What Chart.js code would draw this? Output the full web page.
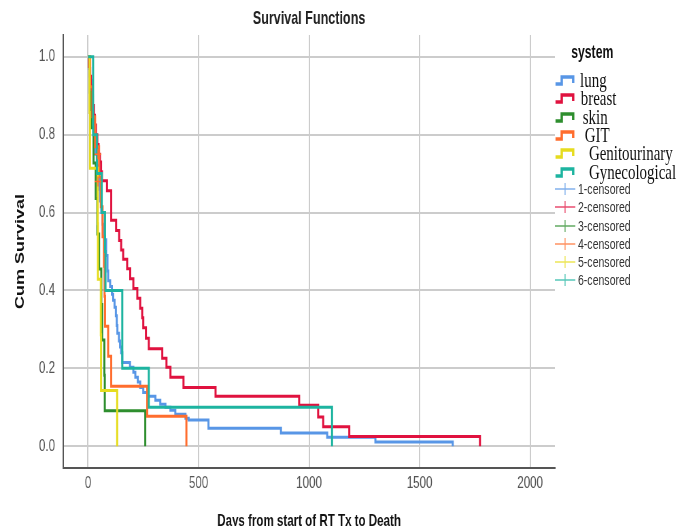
<!DOCTYPE html>
<html>
<head>
<meta charset="utf-8">
<script src="https://cdn.jsdelivr.net/npm/chart.js@4"></script>
<style>
  body { margin: 0; background: #fff; overflow: hidden; }
  /* the reference export is squeezed horizontally, so draw wide and squeeze */
  #wrap { position: relative; width: 1004px; height: 526px; transform: scaleX(0.68); transform-origin: 0 0; }
  #chart { position: absolute; left: 0; top: 0; }
  .leg { position: absolute; white-space: pre; line-height: 1; }
</style>
</head>
<body>
<div id="wrap">
  <canvas id="chart" width="1004" height="526"></canvas>
  <div id="legend"></div>
</div>
<script>
// groups and Kaplan-Meier steps (days, cumulative survival)
var systems = ['lung', 'breast', 'skin', 'GIT', 'Genitourinary', 'Gynecological'];
var colors = ['#5896e6', '#e0123f', '#2e8e2e', '#ff6d2e', '#e6dc1e', '#1db4a0'];

var lungDays = [0, 5, 10, 15, 20, 25, 30, 35, 40, 45, 50, 55, 60, 66, 72, 77, 82, 88, 91, 100, 108, 114, 120, 126, 130, 133, 140, 145, 150, 155, 190, 205, 214, 225, 236, 250, 273, 305, 327, 350, 373, 395, 441, 455, 545, 873, 1082, 1300, 1650];
var lungSurv = [1.0, 0.97, 0.94, 0.91, 0.87, 0.83, 0.79, 0.75, 0.72, 0.69, 0.66, 0.63, 0.60, 0.57, 0.54, 0.53, 0.49, 0.45, 0.425, 0.41, 0.39, 0.375, 0.357, 0.335, 0.31, 0.29, 0.27, 0.255, 0.24, 0.215, 0.203, 0.19, 0.177, 0.165, 0.151, 0.138, 0.128, 0.118, 0.108, 0.10, 0.092, 0.082, 0.072, 0.067, 0.046, 0.034, 0.023, 0.011, 0];

var breastDays = [0, 4, 8, 13, 18, 22, 27, 31, 36, 42, 48, 54, 59, 63, 86, 105, 127, 141, 150, 159, 177, 191, 205, 223, 236, 245, 250, 262, 275, 336, 355, 373, 432, 577, 955, 1041, 1064, 1182, 1773];
var breastSurv = [1.0, 0.975, 0.95, 0.925, 0.9, 0.875, 0.85, 0.825, 0.8, 0.775, 0.75, 0.73, 0.705, 0.682, 0.656, 0.58, 0.554, 0.528, 0.504, 0.48, 0.456, 0.43, 0.405, 0.38, 0.354, 0.33, 0.304, 0.277, 0.25, 0.226, 0.203, 0.177, 0.151, 0.128, 0.105, 0.075, 0.05, 0.025, 0];

var skinDays = [0, 8, 15, 25, 35, 42, 50, 60, 64, 74, 76, 259];
var skinSurv = [1.0, 0.909, 0.818, 0.727, 0.636, 0.545, 0.455, 0.364, 0.273, 0.182, 0.091, 0];

var gitDays = [0, 10, 20, 32, 50, 58, 66, 72, 75, 77, 91, 105, 268, 445];
var gitSurv = [1.0, 0.923, 0.846, 0.769, 0.692, 0.615, 0.538, 0.462, 0.385, 0.308, 0.231, 0.154, 0.077, 0];

var guDays = [0, 7, 9, 44, 45, 58, 59, 132];
var guSurv = [1.0, 0.857, 0.714, 0.571, 0.429, 0.286, 0.143, 0];

var gynDays = [0, 23, 40, 62, 77, 79, 155, 275, 1104];
var gynSurv = [1.0, 0.8, 0.7, 0.6, 0.5, 0.4, 0.2, 0.1, 0];

// censored cases that show on the plot
var gitCensorDays = [45, 45];
var gitCensorSurv = [0.75, 0.68];

var xTicks = [0, 500, 1000, 1500, 2000];
var yTicks = [0, 0.2, 0.4, 0.6, 0.8, 1.0];

var sans = "'Liberation Sans', Arial, sans-serif";
var serif = "'Liberation Serif', 'Times New Roman', serif";

function pts(days, surv) {
    return days.map(function (d, i) { return { x: d, y: surv[i] }; });
}

var curves = [
    pts(lungDays, lungSurv), pts(breastDays, breastSurv), pts(skinDays, skinSurv),
    pts(gitDays, gitSurv), pts(guDays, guSurv), pts(gynDays, gynSurv)
];
var censored = [[], [], [], pts(gitCensorDays, gitCensorSurv), [], []];

var datasets = [];
curves.forEach(function (data, i) {
    datasets.push({
        label: systems[i],
        data: data,
        showLine: true,
        stepped: true,
        borderColor: colors[i],
        backgroundColor: colors[i],
        borderWidth: 3,
        pointRadius: 0,
        order: 6 - i
    });
});
censored.forEach(function (data, i) {
    datasets.push({
        label: (i + 1) + '-censored',
        data: data,
        showLine: false,
        pointStyle: 'cross',
        pointRadius: 5,
        borderWidth: 1.5,
        borderColor: colors[i],
        order: 0
    });
});

function fixTicks(list) {
    return function (scale) { scale.ticks = list.map(function (v) { return { value: v }; }); };
}

new Chart(document.getElementById('chart'), {
    type: 'scatter',
    data: { datasets: datasets },
    options: {
        responsive: false,
        animation: false,
        devicePixelRatio: 1,
        layout: { padding: { left: 0, right: 188, top: 0, bottom: 0 } },
        plugins: {
            legend: { display: false },
            tooltip: { enabled: false },
            title: {
                display: true,
                text: 'Survival Functions',
                fullSize: false,
                color: '#222',
                font: { family: sans, size: 18.5, weight: 'bold' },
                padding: { top: 7.5, bottom: 5.3 }
            }
        },
        scales: {
            x: {
                type: 'linear',
                min: -112,
                max: 2112,
                afterBuildTicks: fixTicks(xTicks),
                afterFit: function (scale) { scale.height = 58; },
                grid: { color: '#cccccc', lineWidth: 2, drawTicks: false },
                border: { display: true, color: '#555', width: 2 },
                ticks: {
                    color: '#555', padding: 5, font: { family: sans, size: 17 },
                    callback: function (v) { return String(v); }
                },
                title: {
                    display: true,
                    text: 'Days from start of RT Tx to Death',
                    color: '#111',
                    font: { family: sans, size: 17, weight: 'bold', lineHeight: 1 },
                    padding: { top: 0, bottom: -4 }
                }
            },
            y: {
                min: -0.056,
                max: 1.056,
                afterBuildTicks: fixTicks(yTicks),
                afterFit: function (scale) { scale.width = 93; },
                grid: { color: '#cccccc', lineWidth: 2, drawTicks: false },
                border: { display: true, color: '#555', width: 2 },
                ticks: {
                    color: '#555', padding: 12, font: { family: sans, size: 17 },
                    callback: function (v) { return v.toFixed(1); }
                },
                title: {
                    display: true,
                    text: 'Cum Survival',
                    color: '#111',
                    font: { family: sans, size: 18, weight: 'bold' },
                    padding: { top: 19, bottom: 0 }
                }
            }
        }
    }
});

// legend on the right, built from the same names and colours
var legend = document.getElementById('legend');
function addText(text, left, cy, font, color) {
    var d = document.createElement('div');
    d.className = 'leg';
    d.textContent = text;
    d.style.left = left + 'px';
    d.style.top = cy + 'px';
    d.style.transform = 'translateY(-50%)';
    d.style.font = font;
    d.style.color = color;
    legend.appendChild(d);
}
function addIcon(svg, cy) {
    var d = document.createElement('div');
    d.className = 'leg';
    d.style.left = '816px';
    d.style.top = (cy - 7) + 'px';
    d.innerHTML = svg;
    legend.appendChild(d);
}

addText('system', 840, 52, 'bold 18px ' + sans, '#111');

var rowY = [80, 98, 117, 135, 153, 172];
var labelX = [853, 854, 857, 860, 866, 866];
systems.forEach(function (name, i) {
    addIcon('<svg width="32" height="14"><path d="M1 11 H10 V4 H27 V10" fill="none" stroke="' + colors[i] +
        '" stroke-width="3.5"/></svg>', rowY[i]);
    addText(name, labelX[i], rowY[i], '22px ' + serif, '#111');
});

var censorY = [189, 207, 226, 244, 262, 280];
systems.forEach(function (name, i) {
    addIcon('<svg width="32" height="14"><path d="M0 7 H30 M15 1 V13" fill="none" stroke="' + colors[i] +
        '" stroke-width="1.6" opacity="0.75"/></svg>', censorY[i]);
    addText((i + 1) + '-censored', 850, censorY[i], '15.5px ' + sans, '#333');
});
</script>
</body>
</html>
